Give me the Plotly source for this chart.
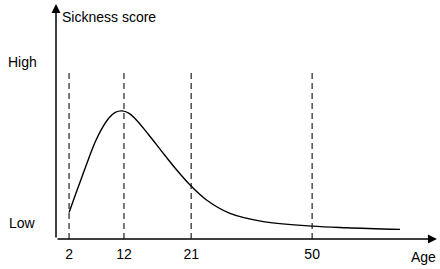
import plotly.graph_objects as go

# Schematic x positions (0-100 along the age axis) and score (0-100)
tick_pos = [3.4, 17.7, 35.2, 66.7]
tick_labels = ["2", "12", "21", "50"]

curve_x = [3.4, 5.03, 6.77, 8.52, 10.23, 11.98, 13.72, 15.44, 17.19, 18.93, 20.57, 24.04,
           27.53, 31.0, 35.3, 39.2, 45.3, 54.0, 66.6, 75.7, 89.6]
curve_y = [11.3, 18.7, 26.5, 34.3, 41.4, 47.1, 51.4, 53.9, 54.5, 53.6, 51.3, 44.6,
           37.3, 30.2, 22.3, 16.6, 10.9, 7.4, 5.5, 4.8, 4.1]

dash_top = 72.3
level_pos = [0.068, 0.753]
level_labels = ["Low", "High"]

FONT = "Liberation Sans, Arial, Helvetica, sans-serif"

fig = go.Figure()

for t in tick_pos:
    fig.add_trace(go.Scatter(x=[t, t], y=[0, dash_top], mode="lines",
                             line=dict(color="#222", width=1.2, dash="6px,4px"),
                             hoverinfo="skip", showlegend=False))

fig.add_trace(go.Scatter(x=curve_x, y=curve_y, mode="lines",
                         line=dict(color="black", width=1.4, shape="spline", smoothing=1.0),
                         showlegend=False))

annotations = [
    # x axis arrow
    dict(x=99.2, y=0, ax=0, ay=0, xref="x", yref="y", axref="x", ayref="y",
         text="", showarrow=True, arrowhead=2, arrowsize=1.2, arrowwidth=1.5, arrowcolor="black"),
    # y axis arrow
    dict(x=0, y=100, ax=0, ay=0, xref="x", yref="y", axref="x", ayref="y",
         text="", showarrow=True, arrowhead=2, arrowsize=1.2, arrowwidth=1.5, arrowcolor="black"),
    dict(x=1.0, y=94.5, xref="x", yref="y", text="Sickness score", showarrow=False,
         xanchor="left", yanchor="middle", font=dict(size=14, color="black", family=FONT)),
    dict(x=0.957, y=-0.0766, xref="paper", yref="paper", text="Age", showarrow=False,
         xanchor="center", yanchor="middle", font=dict(size=14, color="black", family=FONT)),
]
for p, lab in zip(level_pos, level_labels):
    annotations.append(dict(x=-0.0872, y=p, xref="paper", yref="paper", text=lab, showarrow=False,
                            xanchor="center", yanchor="middle",
                            font=dict(size=14, color="black", family=FONT)))

fig.update_layout(
    width=440, height=269,
    margin=dict(l=56, r=0, t=4, b=30),
    paper_bgcolor="white", plot_bgcolor="white",
    annotations=annotations,
    hovermode=False,
    xaxis=dict(range=[0, 100], showgrid=False, zeroline=False, showline=False,
               tickvals=tick_pos, ticktext=tick_labels, ticks="outside", ticklen=2,
               tickcolor="rgba(0,0,0,0)", tickfont=dict(size=14, color="black", family=FONT)),
    yaxis=dict(range=[0, 100], showgrid=False, zeroline=False, showline=False,
               showticklabels=False, ticks=""),
)

fig.write_html("out.html", config={"displayModeBar": False},
               post_script="document.body.style.margin='0';")
